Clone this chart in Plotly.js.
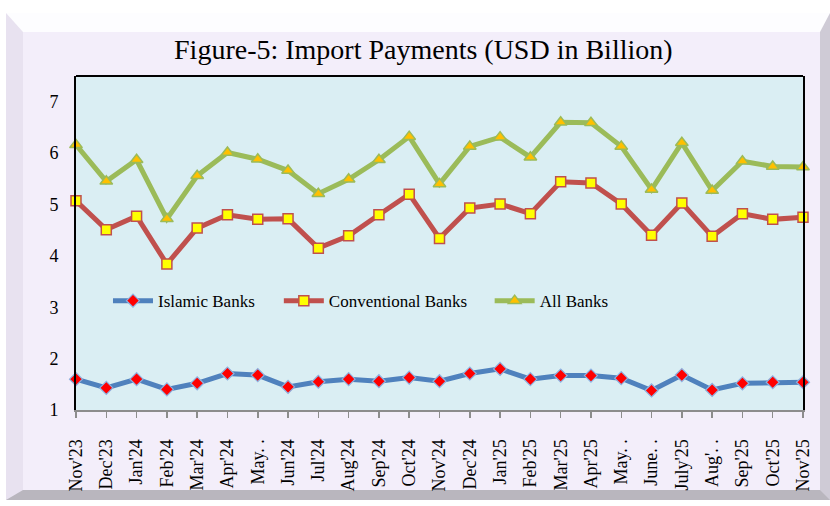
<!DOCTYPE html>
<html>
<head>
<meta charset="utf-8">
<script src="https://cdn.plot.ly/plotly-3.0.1.min.js"></script>
<style>
  html, body { margin: 0; padding: 0; background: #ffffff; width: 830px; height: 506px; overflow: hidden; }
  #frame {
    position: absolute; left: 6px; top: 13px; width: 824px; height: 487px;
    box-sizing: border-box; background: #F3EEFA;
    border-style: solid; border-width: 19px 10px 10px 17px;
    border-top-color: #FDFDFF; border-left-color: #E8E2F0;
    border-right-color: #CFCBD6; border-bottom-color: #B9B6BE;
  }
  #chart { position: absolute; left: 0; top: 0; width: 830px; height: 506px; }
</style>
</head>
<body>
<div id="frame"></div>
<div id="chart"></div>
<script>
const months = ["Nov'23","Dec'23","Jan'24","Feb'24","Mar'24","Apr'24","May'24","Jun'24","Jul'24","Aug'24","Sep'24","Oct'24","Nov'24","Dec'24","Jan'25","Feb'25","Mar'25","Apr'25","May'25","June'25","July'25","Aug'25","Sep'25","Oct'25","Nov'25"];
const tickLabels = ["Nov'23","Dec'23","Jan'24","Feb'24","Mar'24","Apr'24","May. .","Jun'24","Jul'24","Aug'24","Sep'24","Oct'24","Nov'24","Dec'24","Jan'25","Feb'25","Mar'25","Apr'25","May. .","June. .","July'25","Aug'. .","Sep'25","Oct'25","Nov'25"];
const islamic = [1.60,1.43,1.60,1.40,1.52,1.71,1.68,1.45,1.55,1.60,1.56,1.63,1.56,1.71,1.80,1.60,1.67,1.67,1.62,1.38,1.68,1.39,1.52,1.54,1.54];
const conventional = [5.07,4.51,4.77,3.84,4.54,4.80,4.71,4.72,4.15,4.39,4.80,5.20,4.34,4.93,5.01,4.82,5.44,5.42,5.01,4.40,5.03,4.38,4.82,4.71,4.75];
const allBanks = [6.16,5.45,5.87,4.72,5.56,6.01,5.88,5.66,5.21,5.49,5.87,6.32,5.40,6.13,6.31,5.92,6.60,6.59,6.13,5.29,6.20,5.27,5.84,5.74,5.73];
const yTicks = [1,2,3,4,5,6,7];

const serif = "Liberation Serif, Times New Roman, serif";

const traces = [
  {
    x: months, y: islamic, name: "Islamic Banks", type: "scatter", mode: "lines+markers",
    cliponaxis: false, legend: "legend",
    line: { color: "#4F81BD", width: 5 },
    marker: { symbol: "diamond", size: 10, color: "#FF0000", line: { color: "#8DB3E2", width: 1.2 } }
  },
  {
    x: months, y: conventional, name: "Conventional Banks", type: "scatter", mode: "lines+markers",
    cliponaxis: false, legend: "legend2",
    line: { color: "#C0504D", width: 5 },
    marker: { symbol: "square", size: 10, color: "#FFFF00", line: { color: "#C0504D", width: 1.5 } }
  },
  {
    x: months, y: allBanks, name: "All Banks", type: "scatter", mode: "lines+markers",
    cliponaxis: false, legend: "legend3",
    line: { color: "#9BBB59", width: 5 },
    marker: { symbol: "triangle-up", size: 11, color: "#FFC000", line: { color: "#9BBB59", width: 1.5 } }
  }
];

function legendAt(x) {
  return {
    orientation: "h", x: x, xanchor: "left", y: 0.326, yanchor: "middle",
    bgcolor: "rgba(0,0,0,0)", font: { family: serif, size: 17, color: "#000000" },
    itemwidth: 40
  };
}

const layout = {
  width: 830, height: 506,
  margin: { l: 76, r: 27, t: 76, b: 96 },
  paper_bgcolor: "rgba(0,0,0,0)",
  plot_bgcolor: "#DAEEF3",
  font: { family: serif, color: "#000000", size: 18 },
  title: {
    text: "Figure-5: Import Payments (USD in Billion)",
    font: { family: serif, size: 28, color: "#000000" },
    x: 0.51, xref: "container", xanchor: "center",
    y: 0.902, yref: "container", yanchor: "middle"
  },
  xaxis: {
    type: "category", range: [0, 24],
    tickvals: months, ticktext: tickLabels,
    tickangle: -90, tickfont: { family: serif, size: 18 },
    showgrid: false, zeroline: false,
    showline: true, linecolor: "#8C8C8C", linewidth: 2,
    ticks: "outside", ticklen: 6, tickcolor: "#8C8C8C", tickwidth: 1.5,
    ticklabelstandoff: 14
  },
  yaxis: {
    range: [1, 7.5], tickvals: yTicks, ticktext: yTicks.map(String),
    tickfont: { family: serif, size: 18 },
    showgrid: false, zeroline: false,
    showline: true, mirror: true, linecolor: "#000000", linewidth: 2,
    ticks: "", ticklabelstandoff: 12
  },
  shapes: [
    { type: "line", xref: "paper", yref: "paper", x0: 0, x1: 1, y0: 1, y1: 1, line: { color: "#000000", width: 2 } }
  ],
  legend: legendAt(0.044),
  legend2: legendAt(0.279),
  legend3: legendAt(0.569),
  showlegend: true
};

Plotly.newPlot("chart", traces, layout, { displayModeBar: false, staticPlot: true });
</script>
</body>
</html>
